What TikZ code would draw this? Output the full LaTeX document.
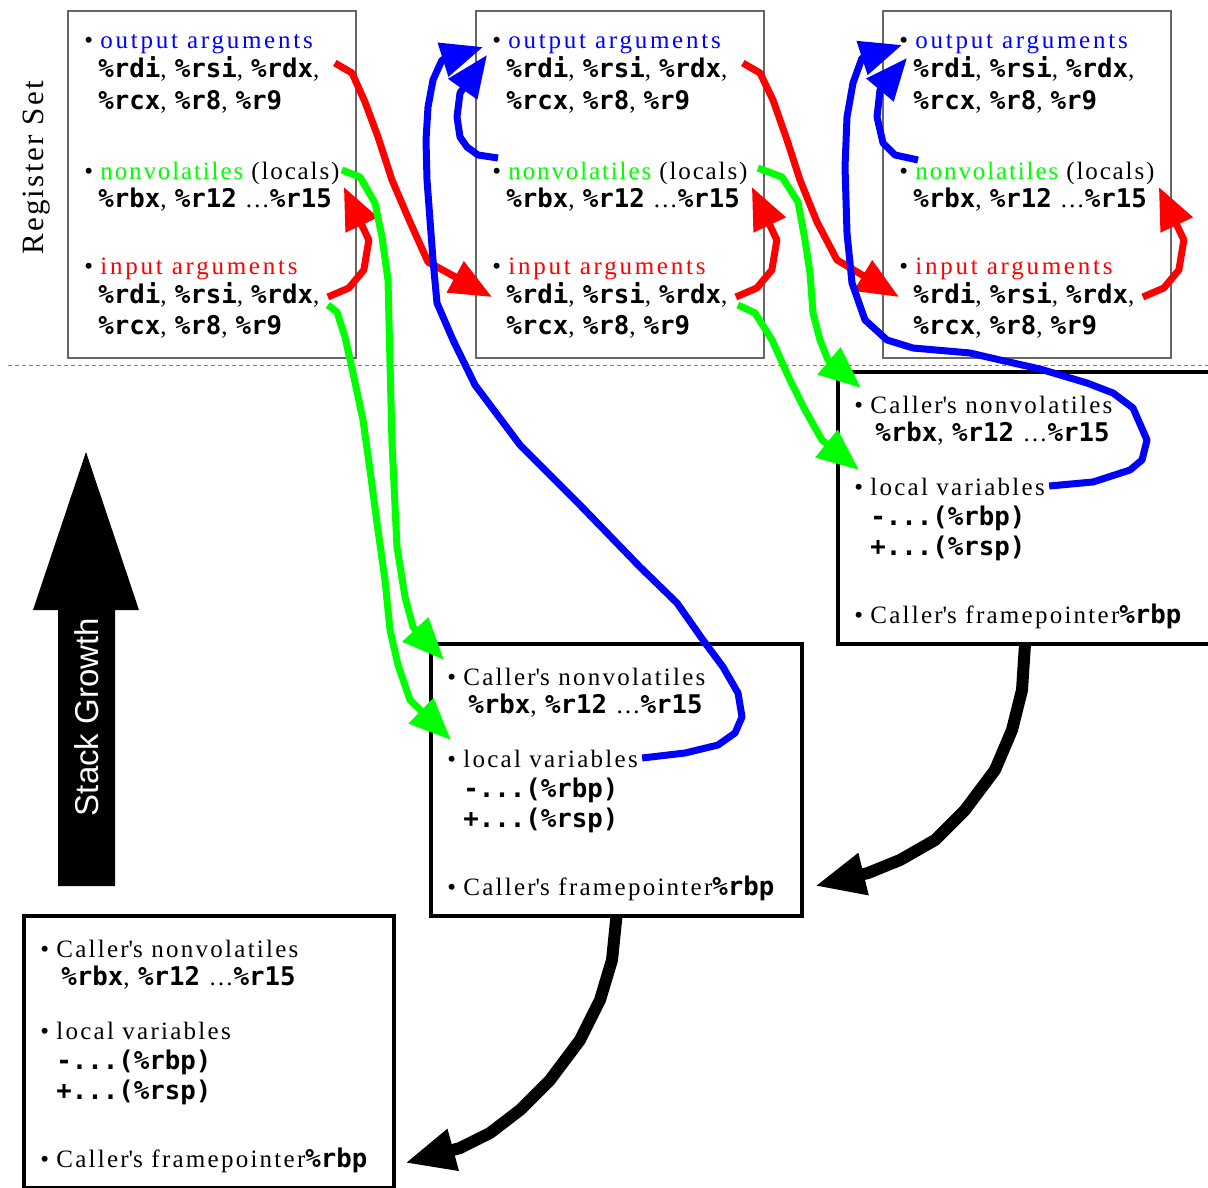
\documentclass[tikz,border=0pt]{standalone}
\usepackage{fontspec}
\setmainfont{Liberation Serif}[LetterSpace=7.5]
\setsansfont{Liberation Sans}
\setmonofont{DejaVu Sans Mono}[Scale=1.03]
\usetikzlibrary{positioning}
\usetikzlibrary{arrows.meta}

\newcommand\reg[1]{{\ttfamily\bfseries #1}}
\newcommand\itm{\makebox[8pt][l]{\textbullet}}
\newcommand\wide[1]{{\addfontfeature{LetterSpace=11}#1}}

\begin{document}
\begin{tikzpicture}[x=0.5pt,y=-0.5pt,>={Triangle[length=21pt,width=17pt]},
    font=\fontsize{12.5}{15}\selectfont,
    txt/.style={anchor=base west,inner sep=0pt},
    ftxt/.style={txt,font=\fontsize{12.5}{15}\selectfont\addfontfeature{LetterSpace=9}},
    regbox/.style={draw=black!60,line width=0.6pt,minimum width=144pt,minimum height=173.5pt,inner sep=0pt,outer sep=0pt},
    stackframe/.style={draw,line width=1.6pt,minimum height=136pt,inner sep=0pt,outer sep=0pt},
    link/.style={->,line width=3.5pt,line join=round},
    push/.style={-{Triangle[length=25pt,width=20pt]},line width=6pt,line join=round}]
    \useasboundingbox (0,0) rectangle (1208,1187);

    % register sets
    \node[regbox,anchor=north west] (box1) at (68,11) {};
    \node[regbox,right=60pt of box1] (box2) {};
    \node[regbox,right=59.5pt of box2] (box3) {};
    \node[rotate=90,font=\fontsize{15.5}{18}\selectfont] (regset) at (37,168) {Register Set};

    \foreach \i in {1,2,3}{
        \node[txt] (out\i) at ([shift={(16,38)}]box\i.north west) {\itm\textcolor{blue}{\wide{output arguments}}};
        \node[txt] (outa\i) at ([shift={(30,67)}]box\i.north west) {\reg{\%rdi}, \reg{\%rsi}, \reg{\%rdx},};
        \node[txt] (outb\i) at ([shift={(30,99)}]box\i.north west) {\reg{\%rcx}, \reg{\%r8}, \reg{\%r9}};
        \node[txt] (nv\i) at ([shift={(16,169)}]box\i.north west) {\itm\textcolor{green}{nonvolatiles} (locals)};
        \node[txt] (nva\i) at ([shift={(30,197)}]box\i.north west) {\reg{\%rbx}, \reg{\%r12} \ldots\reg{\%r15}};
        \node[txt] (in\i) at ([shift={(16,264)}]box\i.north west) {\itm\textcolor{red}{\wide{input arguments}}};
        \node[txt] (ina\i) at ([shift={(30,293)}]box\i.north west) {\reg{\%rdi}, \reg{\%rsi}, \reg{\%rdx},};
        \node[txt] (inb\i) at ([shift={(30,324)}]box\i.north west) {\reg{\%rcx}, \reg{\%r8}, \reg{\%r9}};
    }

    \draw[black!50,dash pattern=on 2pt off 1.5pt,line width=0.5pt] (8,365) -- (1208,365);

    % stack frames
    \node[stackframe,minimum width=187pt,anchor=north west] (fA) at (838,372) {};
    \node[stackframe,minimum width=185.5pt,below left=0pt and 18pt of fA.south west] (fB) {};
    \node[stackframe,minimum width=185pt,below left=0pt and 18.5pt of fB.south west] (fC) {};

    \foreach \f in {A,B,C}{
        \node[ftxt] (cn\f) at ([shift={(16,41)}]f\f.north west) {\itm Caller\textquotesingle s nonvolatiles};
        \node[ftxt] (cr\f) at ([shift={(37,69)}]f\f.north west) {\reg{\%rbx}, \reg{\%r12} \ldots\reg{\%r15}};
        \node[ftxt] (lv\f) at ([shift={(16,123)}]f\f.north west) {\itm local variables};
        \node[ftxt] (lm\f) at ([shift={(32,153)}]f\f.north west) {\reg{-...(\%rbp)}};
        \node[ftxt] (lp\f) at ([shift={(32,183)}]f\f.north west) {\reg{+...(\%rsp)}};
        \node[ftxt] (fp\f) at ([shift={(16,251)}]f\f.north west) {\itm Caller\textquotesingle s framepointer\reg{\%rbp}};
    }

    % stack growth
    \fill (58,886) -- (115,886) -- (115,610) -- (139,610) -- (86,452) -- (33,610) -- (58,610) -- cycle;
    \node[rotate=90,text=white,font=\sffamily\fontsize{16.5}{18}\selectfont] (growth) at (87,717) {Stack Growth};

    % red: output -> next input, input -> nonvolatiles
    \draw[link,red] ([shift={(15,-15)}]outa1.base east) -- (352,73) -- (365,102) -- (378,137) -- (392,180) -- (410,222) -- (428,262) -- ([shift={(-14,-7)}]ina2.base west);
    \draw[link,red] ([shift={(15,-15)}]outa2.base east) -- (760,73) -- (773,100) -- (787,140) -- (800,180) -- (817,222) -- (837,260) -- ([shift={(-14,-7)}]ina3.base west);
    \foreach \i in {1,2,3}
        \draw[link,red] ([shift={(8,-7)}]ina\i.base east) -- ++(21,-9) -- ++(15,-18) -- ++(5,-30) -- ([shift={(4,7)}]nv\i.base east);

    % green: into the callee frame
    \draw[link,green] ([shift={(2,-10)}]nv1.base east) -- (360,177) -- (375,203) -- (382,237) -- (388,280) -- (390,363) -- (392,443) -- (397,547) -- (405,597) -- (413,627) -- ([shift={(-3,-25)}]cnB.base west);
    \draw[link,green] ([shift={(8,1)}]ina1.base east) -- (337,312) -- (345,337) -- (353,373) -- (363,420) -- (370,470) -- (377,523) -- (385,580) -- (390,630) -- (398,665) -- (410,700) -- ([shift={(4,-27)}]lvB.base west);
    \draw[link,green] ([shift={(10,-12)}]nv2.base east) -- (782,177) -- (798,202) -- (805,240) -- (810,273) -- (813,313) -- (820,340) -- (828,360) -- ([shift={(7,-25)}]cnA.base west);
    \draw[link,green] ([shift={(10,1)}]ina2.base east) -- (755,313) -- (772,340) -- (790,380) -- (805,410) -- (822,440) -- ([shift={(5,-25)}]lvA.base west);

    % blue: back to output arguments
    \draw[link,blue] ([shift={(4,-9)}]lvB.base east) -- (685,753) -- (718,745) -- (735,733) -- (742,717) -- (738,693) -- (723,667) -- (703,640) -- (677,603) -- (640,567) -- (580,505) -- (520,445) -- (475,385) -- (453,340) -- (437,303) -- (433,260) -- (430,220) -- (427,180) -- (426,140) -- (428,107) -- (433,80) -- (442,60) -- ([shift={(-9,-2)}]out2.base west);
    \draw[link,blue] ([shift={(4,-9)}]lvA.base east) -- (1093,482) -- (1130,470) -- (1142,460) -- (1147,440) -- (1133,408) -- (1113,393) -- (1087,383) -- (1040,369) -- (1000,360) -- (970,353) -- (913,348) -- (887,340) -- (865,320) -- (852,283) -- (847,233) -- (845,167) -- (847,117) -- (853,83) -- (862,58) -- ([shift={(3,-4)}]out3.base west);
    \draw[link,blue] ([shift={(6,-22)}]nv2.base west) -- (478,155) -- (467,147) -- (460,137) -- (457,117) -- (460,93) -- ([shift={(-5,6)}]out2.base west);
    \draw[link,blue] ([shift={(19,-20)}]nv3.base west) -- (895,155) -- (883,143) -- (877,117) -- (880,90) -- ([shift={(8,9)}]out3.base west);

    % black: saved frame pointer
    \draw[push] (fA.south) -- (1022,690) -- (1012,730) -- (995,770) -- (965,810) -- (935,840) -- (900,860) -- (868,873) -- ([shift={(13,-30)}]fB.south east);
    \draw[push] (fB.south) -- (612,960) -- (600,1000) -- (580,1040) -- (550,1080) -- (520,1110) -- (490,1133) -- (460,1148) -- ([shift={(11,-25)}]fC.south east);
\end{tikzpicture}
\end{document}
